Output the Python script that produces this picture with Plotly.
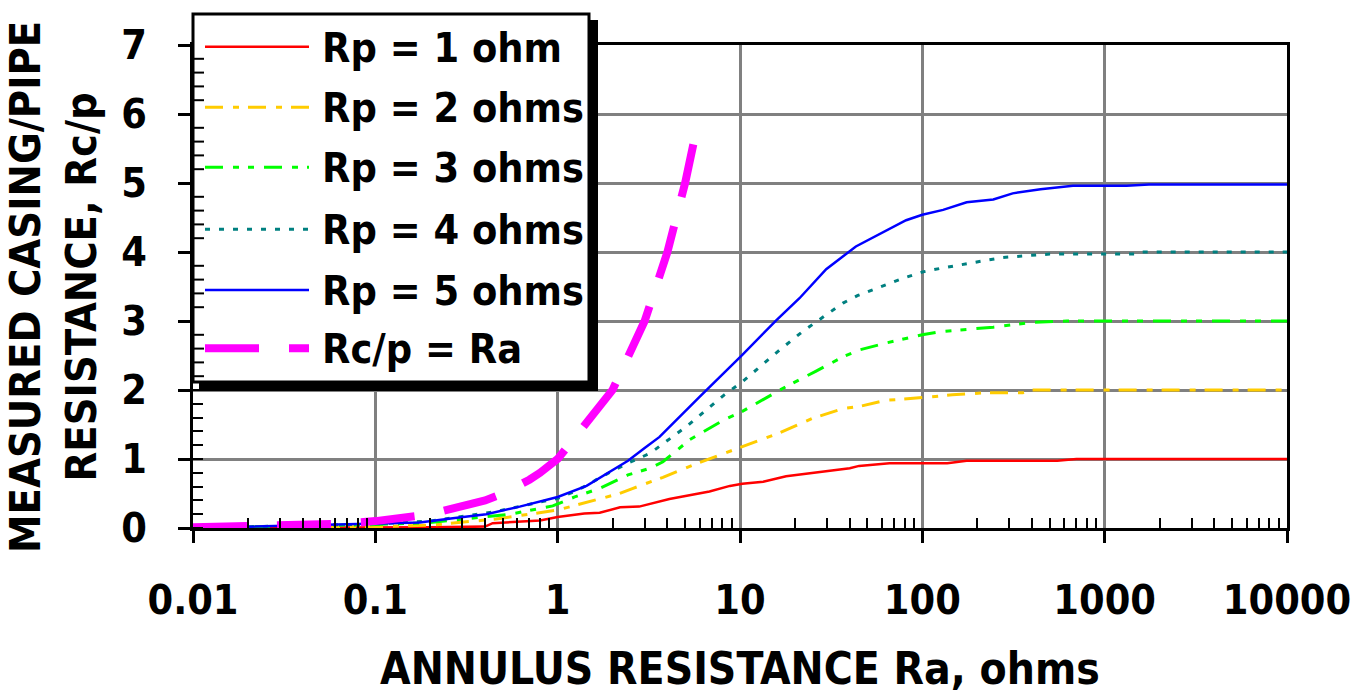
import plotly.graph_objects as go

# Annulus resistance Ra (ohms) and measured casing/pipe resistance Rc/p for each Rp
ra_rp1 = [0.01, 0.05, 0.1, 0.2, 0.4, 0.44, 0.6, 0.8, 1.0, 1.4, 1.7, 2.2, 2.8, 4.1, 6.8, 8.8,
          10.3, 13.4, 17.9, 27, 40, 45, 66, 137, 175, 550, 700, 10000]
rc_rp1 = [0.0, 0.0, 0.01, 0.01, 0.02, 0.07, 0.09, 0.11, 0.16, 0.21, 0.22, 0.30, 0.31, 0.42, 0.53, 0.61,
          0.64, 0.67, 0.75, 0.81, 0.865, 0.90, 0.94, 0.94, 0.975, 0.975, 1.0, 1.0]

ra_rp2 = [0.01, 0.1, 0.2, 0.46, 1.0, 1.5, 2.19, 2.59, 3.78, 6.0, 10.3, 16.5, 25, 36.7, 45, 63,
          100, 146, 225, 356, 400, 10000]
rc_rp2 = [0.0, 0.02, 0.04, 0.13, 0.26, 0.38, 0.50, 0.575, 0.735, 0.95, 1.18, 1.38, 1.59, 1.73, 1.76, 1.85,
          1.89, 1.93, 1.96, 1.96, 2.0, 2.0]

ra_rp3 = [0.01, 0.1, 0.2, 0.55, 0.94, 1.24, 1.7, 2.43, 3.2, 3.78, 5.3, 8.2, 10.3, 15.1, 17.9, 26,
          36.7, 45, 63, 100, 130, 245, 356, 400, 620, 10000]
rc_rp3 = [0.0, 0.05, 0.08, 0.2, 0.32, 0.45, 0.575, 0.77, 0.865, 0.96, 1.28, 1.57, 1.69, 1.94, 2.05, 2.27,
          2.48, 2.58, 2.68, 2.80, 2.85, 2.91, 2.96, 2.98, 3.0, 3.0]

ra_rp4 = [0.01, 0.1, 0.2, 0.46, 1.0, 1.24, 1.5, 1.7, 2.43, 3.2, 5.08, 8.2, 10.3, 16.5, 22.1, 26.5,
          36.7, 44.3, 78.5, 100, 124, 225, 277, 385, 500, 1500, 1600, 10000]
rc_rp4 = [0.0, 0.06, 0.1, 0.24, 0.43, 0.53, 0.64, 0.73, 0.94, 1.08, 1.47, 1.93, 2.12, 2.58, 2.85, 3.0,
          3.26, 3.37, 3.62, 3.71, 3.76, 3.88, 3.92, 3.95, 3.97, 3.97, 4.0, 4.0]

ra_rp5 = [0.01, 0.1, 0.175, 0.266, 0.406, 0.619, 1.0, 1.44, 2.19, 2.43, 3.0, 3.62, 6.0, 10.3, 15.8, 21.2,
          29.7, 43.2, 81.5, 100, 130, 175, 245, 313, 445, 670, 1320, 1750, 10000]
rc_rp5 = [0.0, 0.06, 0.08, 0.14, 0.2, 0.31, 0.45, 0.61, 0.91, 0.975, 1.16, 1.32, 1.90, 2.51, 3.01, 3.33,
          3.75, 4.08, 4.46, 4.54, 4.61, 4.72, 4.76, 4.85, 4.91, 4.96, 4.96, 4.98, 4.98]

ra_line = [0.01, 0.02, 0.03, 0.04, 0.05, 0.06, 0.07, 0.08, 0.09, 0.1, 0.2, 0.3, 0.4, 0.5,
           0.6, 0.7, 0.8, 0.9, 1.0, 2.0, 3.0, 4.0, 5.0, 5.8]
rc_line = [0.01, 0.02, 0.03, 0.04, 0.05, 0.06, 0.07, 0.08, 0.09, 0.1, 0.2, 0.3, 0.4, 0.5,
           0.6, 0.7, 0.8, 0.9, 1.0, 2.0, 3.0, 4.0, 5.0, 5.8]

legend_labels = ["Rp = 1 ohm", "Rp = 2 ohms", "Rp = 3 ohms", "Rp = 4 ohms", "Rp = 5 ohms", "Rc/p = Ra"]

x_tickvals = [0.01, 0.1, 1, 10, 100, 1000, 10000]
x_ticktext = ["0.01", "0.1", "1", "10", "100", "1000", "10000"]
y_tickvals = [0, 1, 2, 3, 4, 5, 6, 7]

FONT = "DejaVu Sans Condensed, DejaVu Sans, sans-serif"

styles = [
    dict(color="#FF0000", width=2.5, dash="solid"),
    dict(color="#FFCC00", width=3, dash="18px,10px,6px,9px"),
    dict(color="#00FF00", width=3, dash="18px,10px,6px,9px,6px,10px"),
    dict(color="#008080", width=3, dash="5px,9px"),
    dict(color="#0000FF", width=2.5, dash="solid"),
    dict(color="#FF00FF", width=8, dash="54px,30px"),
]

series = [(ra_rp1, rc_rp1), (ra_rp2, rc_rp2), (ra_rp3, rc_rp3),
          (ra_rp4, rc_rp4), (ra_rp5, rc_rp5), (ra_line, rc_line)]

fig = go.Figure()
for (xs, ys), st, name in zip(series, styles, legend_labels):
    fig.add_trace(go.Scatter(x=xs, y=ys, mode="lines", name=name,
                             line=dict(color=st["color"], width=st["width"], dash=st["dash"]),
                             showlegend=False, hoverinfo="skip"))

# plot area in pixels
L, R, T, B = 193, 1287, 45, 528
W, H = 1358, 694


def px(x):
    return (x - L) / (R - L)


def py(y):
    return (B - y) / (B - T)


shapes = []
annotations = []

# boxed legend with drop shadow
shapes.append(dict(type="rect", xref="paper", yref="paper", layer="above",
                   x0=px(199), x1=px(598), y0=py(391), y1=py(20),
                   fillcolor="black", line=dict(width=0)))
shapes.append(dict(type="rect", xref="paper", yref="paper", layer="above",
                   x0=px(193), x1=px(589), y0=py(382), y1=py(14),
                   fillcolor="white", line=dict(color="black", width=3)))
row_y = [46.7, 107.3, 167.3, 229.3, 290, 348.3]
for st, label, ry in zip(styles, legend_labels, row_y):
    shapes.append(dict(type="line", xref="paper", yref="paper", layer="above",
                       x0=px(205), x1=px(309), y0=py(ry), y1=py(ry),
                       line=dict(color=st["color"], width=st["width"], dash=st["dash"])))
    annotations.append(dict(text=label, xref="paper", yref="paper", x=px(320), y=py(ry + 1),
                            xanchor="left", yanchor="middle", showarrow=False,
                            font=dict(family=FONT, size=41, color="black", weight="bold")))

# inner minor ticks of the y axis that sit over the legend box
v = 2.2
while v < 7:
    if abs(v - round(v)) > 1e-6:
        shapes.append(dict(type="line", xref="paper", yref="y", layer="above",
                           x0=0, x1=px(L + 11), y0=v, y1=v,
                           line=dict(color="black", width=2)))
    v = round(v + 0.2, 1)

# axis titles
annotations.append(dict(text="ANNULUS RESISTANCE Ra, ohms", xref="paper", yref="paper",
                        x=0.5, y=py(668), xanchor="center", yanchor="middle", showarrow=False,
                        font=dict(family=FONT, size=44, color="black", weight="bold")))
annotations.append(dict(text="MEASURED CASING/PIPE<br>RESISTANCE, Rc/p", xref="paper", yref="paper",
                        x=px(53), y=py(287), xanchor="center", yanchor="middle", showarrow=False,
                        textangle=-90,
                        font=dict(family=FONT, size=43, color="black", weight="bold")))

x_minor = [m * 10.0 ** d for d in range(-2, 4) for m in range(2, 10)]

fig.update_layout(
    width=W, height=H,
    margin=dict(l=L, r=W - R, t=T, b=H - B, pad=0),
    plot_bgcolor="white", paper_bgcolor="white",
    showlegend=False,
    shapes=shapes, annotations=annotations,
    xaxis=dict(type="log", range=[-2, 4], tickmode="array", tickvals=x_tickvals, ticktext=x_ticktext,
               ticks="outside", ticklen=12, tickwidth=3, tickcolor="black",
               showline=True, linecolor="black", linewidth=3, mirror=True,
               showgrid=True, gridcolor="#808080", gridwidth=2.5, zeroline=False,
               ticklabelstandoff=22, automargin=False,
               tickfont=dict(family=FONT, size=41, color="black", weight="bold"),
               minor=dict(tickmode="array", tickvals=x_minor, ticks="inside", ticklen=10,
                          tickwidth=2, tickcolor="black", showgrid=False)),
    yaxis=dict(range=[0, 7], tickmode="array", tickvals=y_tickvals,
               ticks="outside", ticklen=12, tickwidth=3, tickcolor="black",
               showline=True, linecolor="black", linewidth=3, mirror=True,
               showgrid=True, gridcolor="#808080", gridwidth=2.5, zeroline=False,
               ticklabelstandoff=23, automargin=False,
               tickfont=dict(family=FONT, size=41, color="black", weight="bold"),
               minor=dict(dtick=0.2, ticks="inside", ticklen=10, tickwidth=2,
                          tickcolor="black", showgrid=False)),
)

fig.write_html("out.html")
